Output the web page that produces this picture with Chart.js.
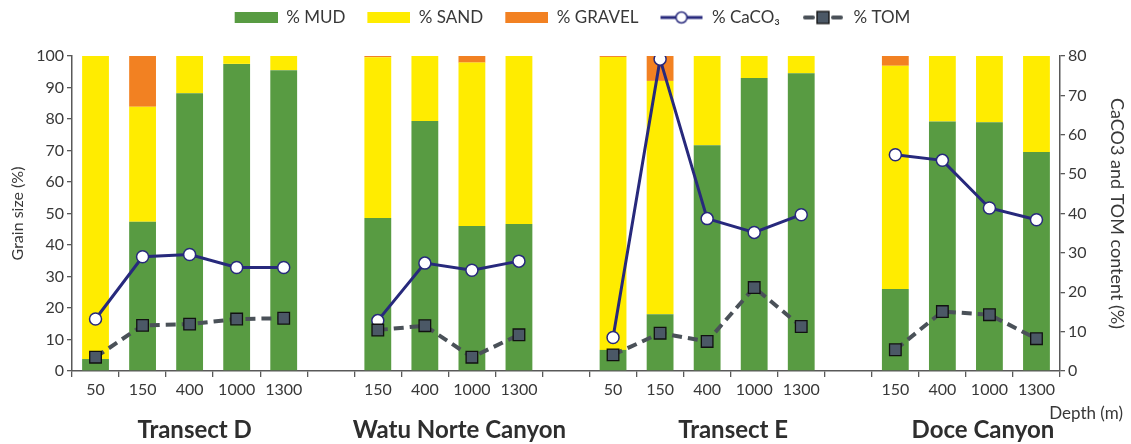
<!DOCTYPE html>
<html>
<head>
<meta charset="utf-8">
<script src="https://cdn.jsdelivr.net/npm/chart.js@4.4.1/dist/chart.umd.min.js"></script>
<style>
  html, body { margin: 0; padding: 0; background: #fff; }
  #wrap { width: 1131px; height: 444px; }
</style>
</head>
<body>
<div id="wrap"><canvas id="grainChart"></canvas></div>
<script>
// depth stations, empty slot between each site
const depthLabels = ['50', '150', '400', '1000', '1300', '',
                     '150', '400', '1000', '1300', '',
                     '50', '150', '400', '1000', '1300', '',
                     '150', '400', '1000', '1300'];

const siteNames = ['Transect D', 'Watu Norte Canyon', 'Transect E', 'Doce Canyon'];
const siteStart = [0, 6, 11, 17];
const siteEnd = [4, 9, 15, 20];

// grain size (%)
const mud    = [3.8, 47.4, 88.2, 97.5, 95.5, null, 48.6, 79.4, 46.0, 46.7, null, 6.7, 18.0, 71.7, 93.0, 94.5, null, 26.0, 79.2, 79.0, 69.5];
const sand   = [96.2, 36.5, 11.8, 2.5, 4.5, null, 51.0, 20.6, 51.9, 53.3, null, 93.0, 74.1, 28.3, 7.0, 5.5, null, 70.9, 20.8, 21.0, 30.5];
const gravel = [0, 16.1, 0, 0, 0, null, 0.4, 0, 2.1, 0, null, 0.3, 7.9, 0, 0, 0, null, 3.1, 0, 0, 0];

// CaCO3 and TOM content (%)
const caco3 = [13.2, 29.0, 29.6, 26.3, 26.3, null, 12.8, 27.4, 25.6, 27.9, null, 8.5, 79.2, 38.7, 35.2, 39.7, null, 54.9, 53.5, 41.4, 38.4];
const tom   = [3.5, 11.6, 11.9, 13.2, 13.4, null, 10.4, 11.5, 3.5, 9.2, null, 4.1, 9.6, 7.5, 21.2, 11.3, null, 5.4, 15.1, 14.3, 8.2];

const FONT = 'Lato, "Open Sans", sans-serif';
const GREEN = '#589b42', YELLOW = '#ffec00', ORANGE = '#f28122';
const NAVY = '#27297c', TOMFILL = '#4b5866', TOMLINE = '#4a5158';
const AXIS = '#595959', TXT = '#383838';

// legend swatches (left part left empty to space the items)
const LEAD = 14;
function boxSwatch(color) {
    let c = document.createElement('canvas');
    c.width = LEAD + 43; c.height = 11;
    let g = c.getContext('2d');
    g.fillStyle = color;
    g.fillRect(LEAD, 0, 43, 11);
    return c;
}
function lineSwatch(kind) {
    let c = document.createElement('canvas');
    c.width = LEAD + 43; c.height = 16;
    let g = c.getContext('2d');
    g.translate(LEAD, 0);
    if (kind === 'circle') {
        g.strokeStyle = NAVY; g.lineWidth = 3;
        g.beginPath(); g.moveTo(0, 8); g.lineTo(42, 8); g.stroke();
        g.fillStyle = '#fff'; g.lineWidth = 1.5;
        g.beginPath(); g.arc(21, 8, 5.5, 0, Math.PI * 2); g.fill(); g.stroke();
    } else {
        g.strokeStyle = TOMLINE; g.lineWidth = 4; g.lineCap = 'round';
        g.beginPath(); g.moveTo(3, 8); g.lineTo(11, 8); g.moveTo(31, 8); g.lineTo(39, 8); g.stroke();
        g.fillStyle = TOMFILL; g.strokeStyle = '#111'; g.lineWidth = 1.3;
        g.fillRect(15, 2, 12, 12); g.strokeRect(15, 2, 12, 12);
    }
    return c;
}
const swatches = [boxSwatch(GREEN), boxSwatch(YELLOW), boxSwatch(ORANGE), lineSwatch('circle'), lineSwatch('square')];

// extra room under the legend row, above the plot
const legendSpace = {
    id: 'legendSpace',
    afterInit(chart) {
        const lg = chart.legend;
        if (!lg) return;
        const fit = lg.fit;
        lg.fit = function () {
            fit.call(this);
            this.height += 20;
        };
    }
};

// site names under the depth labels
const siteNudge = [5, 11, 26, 17];
const siteLabels = {
    id: 'siteLabels',
    afterDraw(chart) {
        const ctx = chart.ctx;
        const x = chart.scales.x;
        ctx.save();
        ctx.fillStyle = '#2e2e2e';
        ctx.textAlign = 'center';
        ctx.textBaseline = 'middle';
        ctx.font = 'bold 24px ' + FONT;
        siteNames.forEach((name, i) => {
            let cx = (x.getPixelForValue(siteStart[i]) + x.getPixelForValue(siteEnd[i])) / 2 + siteNudge[i];
            ctx.fillText(name, cx, 430);
        });
        ctx.fillStyle = TXT;
        ctx.font = '17px ' + FONT;
        ctx.textAlign = 'right';
        ctx.fillText('Depth (m)', 1123, 414);
        ctx.restore();
    }
};

const ctx = document.getElementById('grainChart').getContext('2d');
const chart = new Chart(ctx, {
    data: {
        labels: depthLabels,
        datasets: [
            { type: 'bar', label: '% MUD', data: mud, backgroundColor: GREEN, yAxisID: 'y', order: 2, barPercentage: 0.57, categoryPercentage: 1 },
            { type: 'bar', label: '% SAND', data: sand, backgroundColor: YELLOW, yAxisID: 'y', order: 2, barPercentage: 0.57, categoryPercentage: 1 },
            { type: 'bar', label: '% GRAVEL', data: gravel, backgroundColor: ORANGE, yAxisID: 'y', order: 2, barPercentage: 0.57, categoryPercentage: 1 },
            {
                type: 'line', label: '% CaCO₃', data: caco3, yAxisID: 'y2', order: 1,
                borderColor: NAVY, borderWidth: 3, pointStyle: 'circle', pointRadius: 6,
                pointBackgroundColor: '#fff', pointBorderColor: NAVY, pointBorderWidth: 1.5,
                spanGaps: false, tension: 0
            },
            {
                type: 'line', label: '% TOM', data: tom, yAxisID: 'y2', order: 0,
                borderColor: TOMLINE, borderWidth: 4, borderDash: [10, 6],
                pointStyle: 'rect', pointRadius: 8.2, pointBackgroundColor: TOMFILL,
                pointBorderColor: '#111', pointBorderWidth: 1.3,
                spanGaps: false, tension: 0
            }
        ]
    },
    options: {
        responsive: true,
        maintainAspectRatio: false,
        animation: false,
        layout: { padding: { top: 1, left: 0, right: 0, bottom: 0 } },
        plugins: {
            tooltip: { enabled: false },
            legend: {
                position: 'top',
                labels: {
                    usePointStyle: true,
                    pointStyleWidth: LEAD + 43,
                    padding: 8,
                    color: TXT,
                    font: { family: FONT, size: 17 },
                    generateLabels: function (chart) {
                        return chart.data.datasets.map((ds, i) => ({
                            text: ds.label,
                            pointStyle: swatches[i],
                            fillStyle: 'transparent',
                            strokeStyle: 'transparent',
                            lineWidth: 0,
                            fontColor: TXT,
                            datasetIndex: i,
                            hidden: !chart.isDatasetVisible(i)
                        }));
                    }
                }
            }
        },
        scales: {
            x: {
                stacked: true,
                grid: { display: true, drawOnChartArea: false, tickLength: 6, color: AXIS, lineWidth: 1.3 },
                border: { color: AXIS, width: 1.5 },
                ticks: { color: TXT, font: { family: FONT, size: 16 }, maxRotation: 0, autoSkip: false, padding: 3 },
                afterFit: function (s) { s.height = 73; }
            },
            y: {
                stacked: true,
                min: 0, max: 100,
                grid: { display: true, drawOnChartArea: false, tickLength: 5, color: AXIS, lineWidth: 1.3 },
                border: { color: AXIS, width: 1.5 },
                ticks: { stepSize: 10, color: TXT, font: { family: FONT, size: 16 }, padding: 3 },
                title: { display: true, text: 'Grain size (%)', color: TXT, font: { family: FONT, size: 16 }, padding: { top: 8, bottom: 0 } },
                afterFit: function (s) { s.width = 72; }
            },
            y2: {
                position: 'right',
                stacked: false,
                min: 0, max: 80,
                grid: { display: true, drawOnChartArea: false, tickLength: 5, color: AXIS, lineWidth: 1.3 },
                border: { color: AXIS, width: 1.5 },
                ticks: { stepSize: 10, color: TXT, font: { family: FONT, size: 16 }, padding: 3 },
                title: { display: true, text: 'CaCO3 and TOM content (%)', color: TXT, font: { family: FONT, size: 18 }, padding: { top: 3, bottom: 0 } },
                afterFit: function (s) { s.width = 71; }
            }
        }
    },
    plugins: [legendSpace, siteLabels]
});
</script>
</body>
</html>
